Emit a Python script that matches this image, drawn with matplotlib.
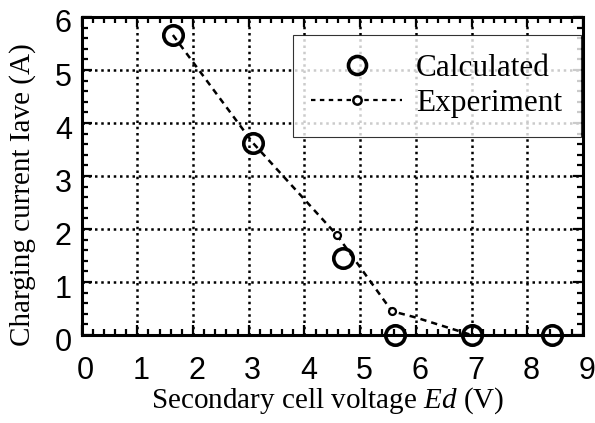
import numpy as np
import matplotlib.pyplot as plt
import matplotlib.transforms as mtrans
from matplotlib.ticker import MultipleLocator

plt.rcParams['mathtext.fontset'] = 'custom'
plt.rcParams['mathtext.it'] = 'Liberation Serif:italic'
plt.rcParams['mathtext.rm'] = 'Liberation Serif'

# calculated (big open circles)
calc_v = [1.64, 3.08, 4.69, 5.63, 7.0, 8.45]
calc_i = [5.66, 3.62, 1.46, 0.0, 0.0, 0.0]

# experiment (small circles, dashed line)
exp_v = [1.64, 3.08, 4.58, 5.57, 6.0, 7.0]
exp_i = [5.66, 3.62, 1.89, 0.45, 0.33, 0.0]
exp_mark = [2, 3]  # markers visible only here, others sit under big circles

fig = plt.figure(figsize=(5.95, 4.23), dpi=100)
ax = fig.add_axes([81.5/595, 1 - 335/423, (583 - 81.5)/595, (335 - 17)/423])

ax.plot(exp_v, exp_i, 'k--', lw=1.8, dashes=(2.5, 2), zorder=3)
ax.plot([exp_v[k] for k in exp_mark], [exp_i[k] for k in exp_mark], 'o', ms=5,
        mfc='white', mec='black', mew=1.6, ls='none', zorder=4)
ax.plot(calc_v, calc_i, 'o', ms=14, mfc='none', mec='black', mew=2.6,
        ls='none', zorder=5, clip_on=False)

# legend proxies
h1, = ax.plot([], [], 'o', ms=13, mfc='none', mec='black', mew=2.6, ls='none')
h2, = ax.plot([], [], 'k--', lw=1.6, dashes=(2, 2), marker='o', ms=6,
              mfc='white', mec='black', mew=1.8)
leg = ax.legend([h1, h2], ['Calculated', 'Experiment'], loc='upper right',
                bbox_to_anchor=(0.996, 0.943), borderaxespad=0, frameon=True,
                fancybox=False, edgecolor='black',
                prop={'family': 'Liberation Serif', 'size': 22.5},
                handlelength=2.9, borderpad=0.6, labelspacing=0.2,
                handletextpad=0.45)
leg.get_frame().set_linewidth(0.8)
leg.set_zorder(10)

ax.set_xlim(0, 9)
ax.set_ylim(0, 6)
ax.xaxis.set_major_locator(MultipleLocator(1))
ax.yaxis.set_major_locator(MultipleLocator(1))
ax.xaxis.set_minor_locator(MultipleLocator(0.2))
ax.yaxis.set_minor_locator(MultipleLocator(0.2))
ax.tick_params(which='both', direction='in', top=True, right=True, width=1.6)
ax.tick_params(which='major', length=7, labelsize=22)
ax.tick_params(which='minor', length=4)
ax.tick_params(axis='x', pad=15)
ax.tick_params(axis='y', pad=7)
xshift = mtrans.ScaledTranslation(4/100, 0, fig.dpi_scale_trans)
yshift = mtrans.ScaledTranslation(0, -4/100, fig.dpi_scale_trans)
for lab in ax.get_xticklabels():
    lab.set_family('Liberation Sans')
    lab.set_transform(lab.get_transform() + xshift)
for lab in ax.get_yticklabels():
    lab.set_family('Liberation Sans')
    lab.set_transform(lab.get_transform() + yshift)
ax.grid(True, which='major', color='black', ls=(0, (1, 1.5)), lw=1.8)
for s in ax.spines.values():
    s.set_linewidth(2.2)

ax.set_xlabel('Secondary cell voltage $\\mathit{Ed}$ (V)', family='Liberation Serif',
              fontsize=21)
ax.xaxis.set_label_coords(0.4915, -0.2296)
ax.xaxis.label.set_va('baseline')
ax.set_ylabel('Charging current Iave (A)', family='Liberation Serif', fontsize=21)
ax.yaxis.set_label_coords(-0.1167, 0.443)
ax.yaxis.label.set_va('center')

fig.savefig('out.png', dpi=100)
